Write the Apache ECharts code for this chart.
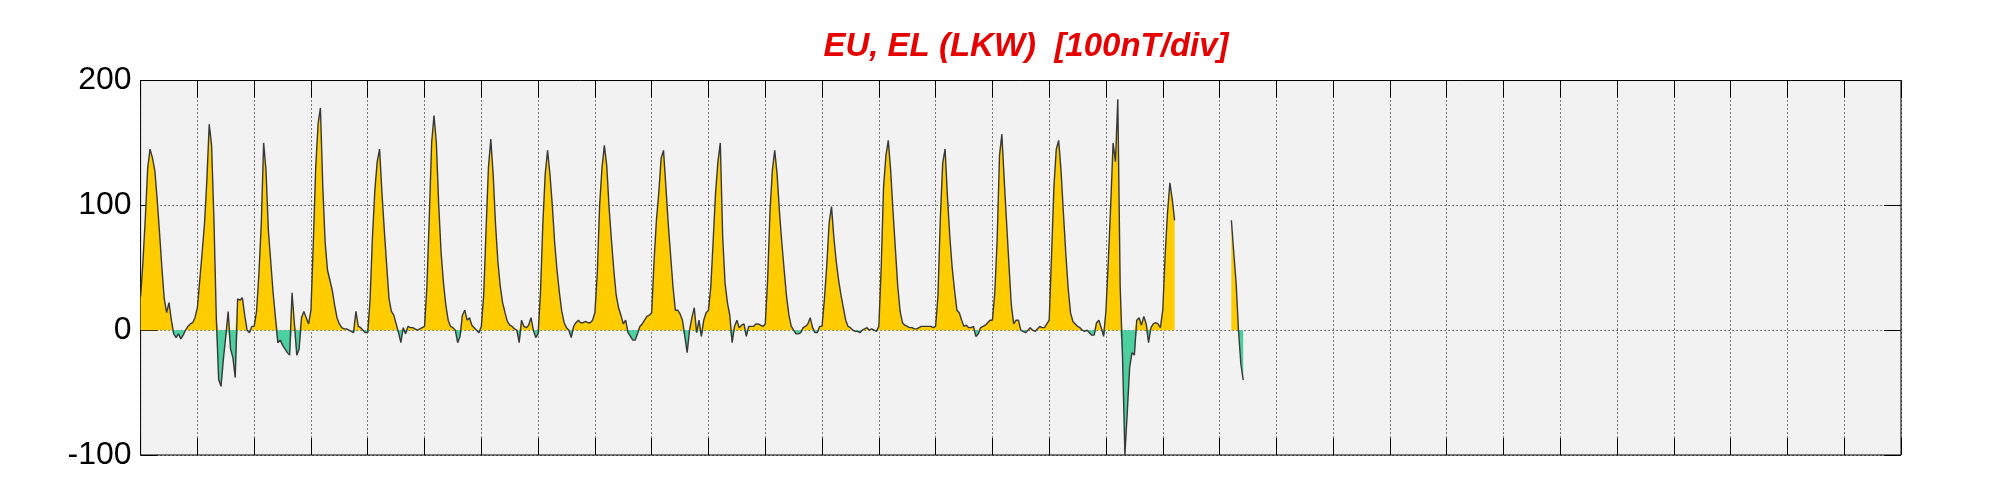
<!DOCTYPE html>
<html>
<head>
<meta charset="utf-8">
<script src="https://cdn.jsdelivr.net/npm/echarts@6/dist/echarts.min.js"></script>
<style>
html,body{margin:0;padding:0;background:#fff;}
#chart{width:2001px;height:500px;}
</style>
</head>
<body>
<div id="chart"></div>
<script>
// Hourly values (nT), one array per day of the month; null = no data
const d01 = [27,55,90,130,145,138,128,105,78,50,25,14,22,8,-3,-6,-3,-7,-4,0,3,5,6,10];
const d02 = [18,40,62,85,120,165,148,88,10,-40,-45,-23,-5,15,-15,-22,-38,25,24,26,12,0,-2,3];
const d03 = [3,15,45,85,150,128,80,55,30,10,-10,-8,-12,-15,-18,-20,30,5,-20,-15,10,15,10,5];
const d04 = [16,70,130,165,178,115,70,48,40,32,20,10,5,2,1,1,0,-1,-2,15,3,2,0,-2];
const d05 = [-2,25,75,112,135,145,110,80,52,25,15,12,5,-2,-10,2,-3,3,2,2,1,0,1,2];
const d06 = [3,35,90,150,172,150,100,62,38,20,8,3,2,0,-10,-5,12,16,8,10,4,2,0,-2];
const d07 = [3,28,80,130,153,125,85,55,35,22,14,7,4,3,1,0,-10,8,3,2,4,10,0,-6];
const d08 = [-3,30,85,125,144,125,100,70,48,30,15,6,2,0,-6,3,6,8,6,6,7,6,6,8];
const d09 = [14,45,100,130,148,132,98,72,48,28,18,12,5,8,-2,-5,-8,-8,-3,3,5,8,11,12];
const d10 = [14,55,88,110,138,144,115,85,60,35,16,16,13,8,-5,-18,0,10,18,-2,8,-5,8,14];
const d11 = [16,35,72,110,135,150,75,38,22,12,-10,3,8,2,4,5,-5,3,3,3,5,5,4,3];
const d12 = [5,40,95,128,144,125,95,70,48,27,12,3,0,-3,-3,-2,2,3,5,10,2,-2,-2,3];
const d13 = [3,25,52,86,99,74,55,40,28,18,8,3,2,0,-1,-1,-2,0,1,2,0,1,0,-1];
const d14 = [3,50,115,140,152,128,95,65,35,15,6,4,3,2,2,1,1,2,3,3,3,3,3,2];
const d15 = [3,28,90,134,145,107,75,50,32,16,14,8,3,4,2,2,3,-5,-3,2,3,4,6,8];
const d16 = [8,30,72,140,157,120,86,52,20,5,8,8,0,-1,-2,0,2,0,-1,1,3,2,2,5];
const d17 = [8,60,115,145,152,128,94,62,34,14,7,5,3,2,0,-1,0,-2,-4,-4,6,8,2,-5];
const d18 = [16,56,100,150,135,185,35,-22,-100,-66,-30,-18,-20,8,10,4,11,5,-10,2,5,6,5,2];
const d19 = [16,60,94,118,105,88,null,null,null,null,null,null,null,null,null,null,null,null,null,null,null,null,null,null];
const d20 = [null,null,null,null,null,88,62,38,0,-27,-40,null,null,null,null,null,null,null,null,null,null,null,null,null];

const days = [d01,d02,d03,d04,d05,d06,d07,d08,d09,d10,d11,d12,d13,d14,d15,d16,d17,d18,d19,d20];
const yTicks = [-100, 0, 100, 200];
const DAYS_IN_MONTH = 31;
const titleText = 'EU, EL (LKW)  [100nT/div]';

const pts = [];
days.forEach((arr, d) => arr.forEach((v, h) => pts.push([d + h / 24, v])));
const posPts = pts.map(p => [p[0], p[1] == null ? null : Math.max(p[1], 0)]);
const negPts = pts.map(p => [p[0], p[1] == null ? null : Math.min(p[1], 0)]);

const chart = echarts.init(document.getElementById('chart'), null, {renderer: 'canvas'});
const dotted = {color: '#000', width: 1, type: [1, 3]};
const tick = {show: true, inside: true, length: 17, lineStyle: {color: '#000', width: 1}};
chart.setOption({
  animation: false,
  backgroundColor: '#fff',
  title: {
    text: titleText,
    left: 1021,
    top: 25,
    textAlign: 'center',
    textStyle: {color: '#e60000', fontSize: 33, fontStyle: 'italic', fontWeight: 'bold', fontFamily: 'Liberation Sans'}
  },
  grid: {left: 140.6, right: 100, top: 80.5, bottom: 45, show: true, backgroundColor: '#f2f2f2', borderColor: '#000', borderWidth: 1},
  xAxis: [
    {type: 'value', min: 0, max: DAYS_IN_MONTH, interval: 1, position: 'bottom',
     axisLine: {show: false, onZero: false}, axisLabel: {show: false},
     axisTick: tick,
     splitLine: {show: true, lineStyle: dotted}},
    {type: 'value', min: 0, max: DAYS_IN_MONTH, interval: 1, position: 'top',
     axisLine: {show: false, onZero: false}, axisLabel: {show: false},
     axisTick: tick,
     splitLine: {show: false}}
  ],
  yAxis: [
    {type: 'value', min: yTicks[0], max: yTicks[yTicks.length - 1], interval: 100, position: 'left',
     axisLine: {show: false, onZero: false},
     axisLabel: {show: true, color: '#000', fontSize: 32, fontFamily: 'Liberation Sans', margin: 9},
     axisTick: tick,
     splitLine: {show: true, lineStyle: dotted}},
    {type: 'value', min: yTicks[0], max: yTicks[yTicks.length - 1], interval: 100, position: 'right',
     axisLine: {show: false, onZero: false}, axisLabel: {show: false},
     axisTick: tick,
     splitLine: {show: false}}
  ],
  series: [
    {name: 'EU', type: 'line', data: posPts, showSymbol: false, symbol: 'none', connectNulls: false,
     lineStyle: {width: 0, opacity: 0}, areaStyle: {color: '#ffcc00', opacity: 1}, z: 2},
    {name: 'EL', type: 'line', data: negPts, showSymbol: false, symbol: 'none', connectNulls: false,
     lineStyle: {width: 0, opacity: 0}, areaStyle: {color: '#4cd0a0', opacity: 1}, z: 2},
    {name: 'trace', type: 'line', data: pts, showSymbol: false, symbol: 'none', connectNulls: false,
     lineStyle: {width: 1.4, color: '#383838'}, z: 3}
  ]
});
</script>
</body>
</html>
